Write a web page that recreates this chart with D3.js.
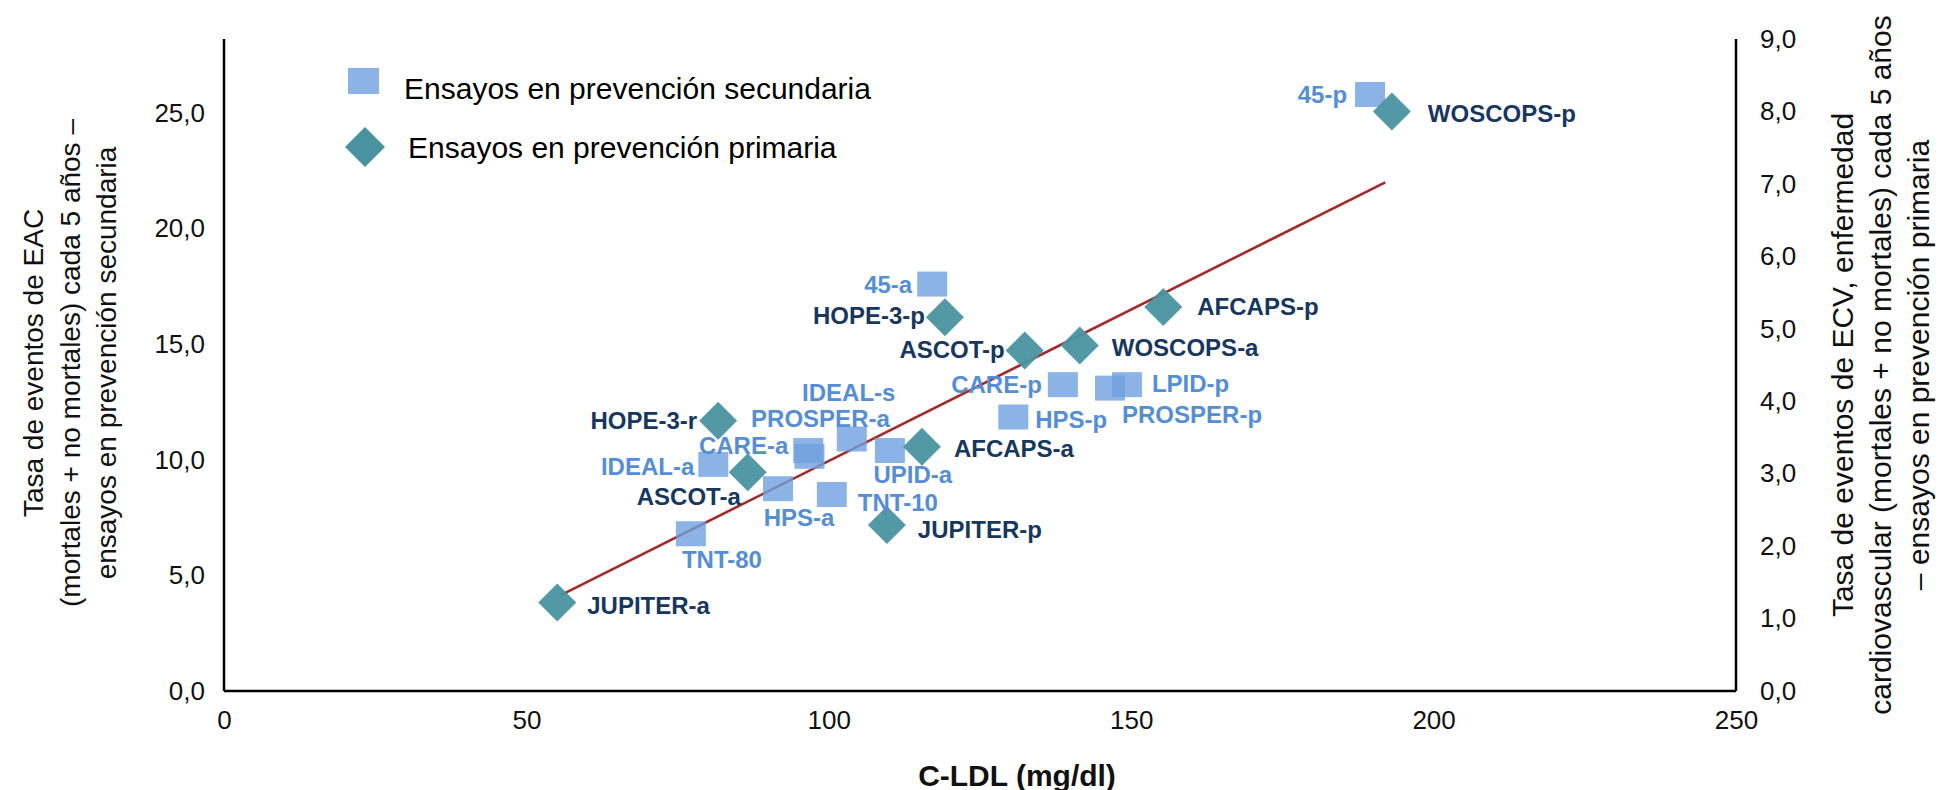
<!DOCTYPE html>
<html>
<head>
<meta charset="utf-8">
<script src="https://cdn.jsdelivr.net/npm/d3@7"></script>
<style>
  body { margin: 0; background: #fff; }
  svg { display: block; font-family: "Liberation Sans", Arial, sans-serif; }
</style>
</head>
<body>
<svg id="chart" width="1952" height="790"></svg>
<script>
// secondary prevention trials (left axis)
const secNames = ["45-p", "45-a", "CARE-p", "PROSPER-p", "LPID-p", "HPS-p", "IDEAL-s", "CARE-a", "PROSPER-a", "UPID-a", "IDEAL-a", "HPS-a", "TNT-10", "TNT-80"];
const secLdl   = [189.5, 117.1, 138.7, 146.5, 149.3, 130.5, 103.8, 96.6, 96.8, 110.1, 80.9, 91.6, 100.5, 77.2];
const secRate  = [25.8, 17.6, 13.25, 13.1, 13.25, 11.85, 10.9, 10.4, 10.15, 10.4, 9.8, 8.75, 8.5, 6.8];

// primary prevention trials (right axis)
const priNames = ["WOSCOPS-p", "AFCAPS-p", "HOPE-3-p", "ASCOT-p", "WOSCOPS-a", "HOPE-3-r", "AFCAPS-a", "ASCOT-a", "JUPITER-p", "JUPITER-a"];
const priLdl   = [193.1, 155.3, 119.2, 132.4, 141.5, 81.7, 115.4, 86.6, 109.6, 55.1];
const priRate  = [8.0, 5.30, 5.16, 4.70, 4.77, 3.73, 3.37, 3.02, 2.29, 1.22];

// regression line (left axis units)
const trendLdl  = [55.7, 192.0];
const trendRate = [4.15, 22.0];

const xTicks     = [0, 50, 100, 150, 200, 250];
const leftTicks  = [0, 5, 10, 15, 20, 25];
const rightTicks = [0, 1, 2, 3, 4, 5, 6, 7, 8, 9];

const legendLabels = ["Ensayos en prevención secundaria", "Ensayos en prevención primaria"];

// where each label sits relative to its marker: dx, dy, anchor
const labelPlace = {
  "45-p": [-23, 0, "end"], "45-a": [-20, 0, "end"], "CARE-p": [-21, 0, "end"],
  "LPID-p": [25, -1, "start"], "PROSPER-p": [12, 26, "start"], "HPS-p": [22, 2, "start"],
  "IDEAL-s": [-3, -46, "middle"], "PROSPER-a": [11, -38, "middle"], "CARE-a": [-20, -5, "end"],
  "UPID-a": [23, 24, "middle"], "IDEAL-a": [-19, 2, "end"], "HPS-a": [21, 29, "middle"],
  "TNT-10": [26, 8, "start"], "TNT-80": [31, 26, "middle"],
  "WOSCOPS-p": [36, 2, "start"], "AFCAPS-p": [34, -1, "start"], "HOPE-3-p": [-20, -2, "end"],
  "ASCOT-p": [-20, -1, "end"], "WOSCOPS-a": [32, 2, "start"], "HOPE-3-r": [-21, 0, "end"],
  "AFCAPS-a": [32, 2, "start"], "ASCOT-a": [-7, 24, "end"], "JUPITER-p": [31, 4, "start"],
  "JUPITER-a": [30, 3, "start"]
};

const secColor = "#6FA0DE", secText = "#558ED5";
const priColor = "#4A92A0", priText = "#17375E";

const svg = d3.select("#chart");
const L = 224, R = 1736, T = 39, B = 691;

const x = d3.scaleLinear().domain([0, 250]).range([L, R]);
const yL = d3.scaleLinear().domain([0, 28.2]).range([B, T]);
const yR = d3.scaleLinear().domain([0, 9]).range([B, T]);

const fmt = d => d3.format(".1f")(d).replace(".", ",");

// axes
const xAxis = svg.append("g").attr("transform", `translate(0,${B})`)
  .call(d3.axisBottom(x).tickValues(xTicks).tickSize(0).tickPadding(20).tickFormat(d3.format("d")));
const leftAxis = svg.append("g").attr("transform", `translate(${L},0)`)
  .call(d3.axisLeft(yL).tickValues(leftTicks).tickSize(0).tickPadding(19).tickFormat(fmt));
const rightAxis = svg.append("g").attr("transform", `translate(${R},0)`)
  .call(d3.axisRight(yR).tickValues(rightTicks).tickSize(0).tickPadding(24).tickFormat(fmt));

[xAxis, leftAxis, rightAxis].forEach(g => {
  g.select(".domain").attr("stroke", "#000").attr("stroke-width", 2.5);
  g.selectAll("text").attr("font-size", 26).attr("fill", "#111")
    .attr("font-family", "'Liberation Sans', Arial, sans-serif");
});
xAxis.select(".domain").attr("d", `M${L},0H${R}`);
leftAxis.select(".domain").attr("d", `M0,${B}V${T}`);
rightAxis.select(".domain").attr("d", `M0,${B}V${T}`);

// trend line under the markers
svg.append("line")
  .attr("x1", x(trendLdl[0])).attr("y1", yL(trendRate[0]))
  .attr("x2", x(trendLdl[1])).attr("y2", yL(trendRate[1]))
  .attr("stroke", "#A3292B").attr("stroke-width", 2.6);

const sqW = 30, sqH = 25, dg = 19;
const diamond = (cx, cy, r) => `M${cx},${cy - r}L${cx + r},${cy}L${cx},${cy + r}L${cx - r},${cy}Z`;

const secData = secNames.map((n, i) => ({ name: n, x: secLdl[i], y: secRate[i] }));
const priData = priNames.map((n, i) => ({ name: n, x: priLdl[i], y: priRate[i] }));

svg.append("g").selectAll("rect").data(secData).join("rect")
  .attr("x", d => x(d.x) - sqW / 2).attr("y", d => yL(d.y) - sqH / 2)
  .attr("width", sqW).attr("height", sqH)
  .attr("fill", secColor).attr("fill-opacity", 0.8);

svg.append("g").selectAll("path").data(priData).join("path")
  .attr("d", d => diamond(x(d.x), yR(d.y), dg))
  .attr("fill", priColor).attr("fill-opacity", 0.95);

function addLabels(data, yScale, color) {
  svg.append("g").selectAll("text").data(data).join("text")
    .attr("x", d => x(d.x) + labelPlace[d.name][0])
    .attr("y", d => yScale(d.y) + labelPlace[d.name][1])
    .attr("text-anchor", d => labelPlace[d.name][2])
    .attr("dominant-baseline", "central")
    .attr("font-size", 24).attr("font-weight", "bold")
    .attr("fill", color)
    .text(d => d.name);
}
addLabels(secData, yL, secText);
addLabels(priData, yR, priText);

// legend
const leg = svg.append("g");
leg.append("rect").attr("x", 348).attr("y", 68).attr("width", 31).attr("height", 26)
  .attr("fill", secColor).attr("fill-opacity", 0.8);
leg.append("path").attr("d", diamond(365, 147, 20)).attr("fill", priColor);
leg.append("text").attr("x", 404).attr("y", 88).attr("dominant-baseline", "central")
  .attr("font-size", 30).attr("fill", "#000").text(legendLabels[0]);
leg.append("text").attr("x", 408).attr("y", 147).attr("dominant-baseline", "central")
  .attr("font-size", 30).attr("fill", "#000").text(legendLabels[1]);

// axis titles
svg.append("text").attr("x", (L + R) / 2 + 37).attr("y", 775)
  .attr("text-anchor", "middle").attr("dominant-baseline", "central")
  .attr("font-size", 30).attr("font-weight", "bold").attr("fill", "#111")
  .text("C-LDL (mg/dl)");

const leftTitle = ["Tasa de eventos de EAC", "(mortales + no mortales) cada 5 años –", "ensayos en prevención secundaria"];
const rightTitle = ["Tasa de eventos de ECV, enfermedad", "cardiovascular (mortales + no mortales) cada 5 años", "– ensayos en prevención primaria"];

function titleBlock(lines, xs, cy, size) {
  lines.forEach((t, i) => {
    svg.append("text")
      .attr("transform", `translate(${xs[i]},${cy}) rotate(-90)`)
      .attr("text-anchor", "middle").attr("dominant-baseline", "central")
      .attr("font-size", size).attr("fill", "#111").text(t);
  });
}
titleBlock(leftTitle, [33, 70, 106], 363, 28);
titleBlock(rightTitle, [1842, 1880, 1918], 365, 30);
</script>
</body>
</html>
